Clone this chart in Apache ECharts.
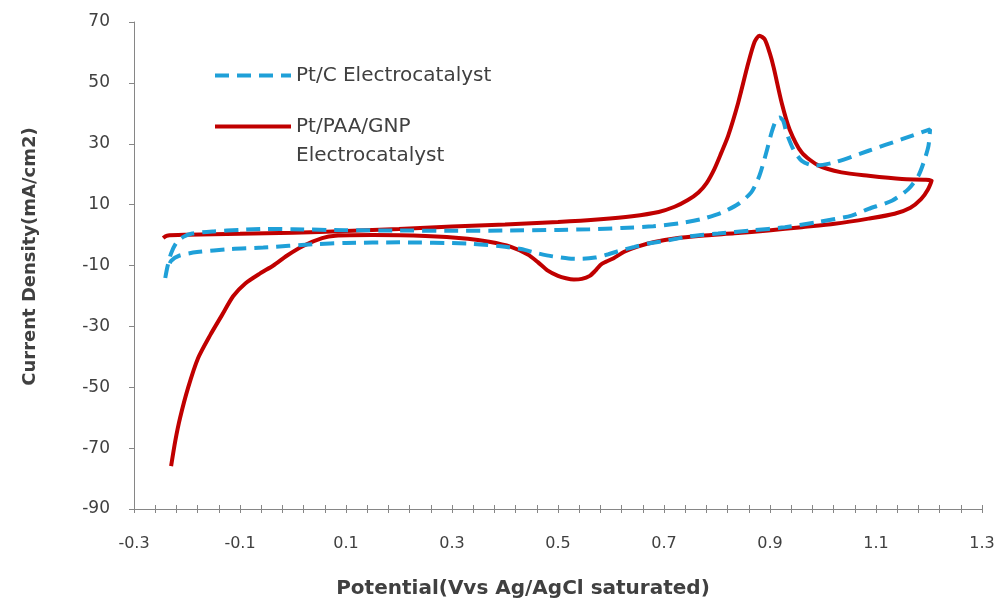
<!DOCTYPE html>
<html><head><meta charset="utf-8">
<script src="https://cdn.jsdelivr.net/npm/echarts@6/dist/echarts.min.js"></script>
<style>html,body{margin:0;padding:0;background:#fff}#c{width:1000px;height:604px}</style>
</head><body><div id="c"></div>
<script>
// Tick labels
const potentialTicks = [-0.3, -0.1, 0.1, 0.3, 0.5, 0.7, 0.9, 1.1, 1.3];
const currentTicks = [-90, -70, -50, -30, -10, 10, 30, 50, 70];

// Pt/PAA/GNP Electrocatalyst (forward scan then reverse scan)
const paaPotential = [
  -0.245, -0.238, -0.2, -0.1, 0.0, 0.1, 0.2, 0.3, 0.4, 0.5, 0.58, 0.64, 0.69, 0.72, 0.745, 0.765, 0.78, 0.795, 0.808, 0.821,
  0.84, 0.859, 0.871, 0.88, 0.89, 0.90, 0.907, 0.922, 0.937, 0.96, 0.992, 1.035, 1.086, 1.149, 1.205,
  1.198, 1.185, 1.165, 1.135, 1.086, 1.022, 0.96, 0.897, 0.833, 0.77, 0.72, 0.682, 0.65, 0.625, 0.605, 0.59, 0.58, 0.57,
  0.56, 0.545, 0.53, 0.515, 0.5, 0.48, 0.462, 0.443, 0.41, 0.37, 0.33, 0.25, 0.15, 0.08, 0.055, 0.02, -0.011, -0.037,
  -0.062, -0.09, -0.113, -0.134, -0.156, -0.179, -0.198, -0.213, -0.222, -0.230
];
const paaCurrent = [
  -1.0, -0.2, 0.1, 0.4, 0.8, 1.3, 2.0, 2.8, 3.5, 4.3, 5.2, 6.2, 7.6, 9.3, 11.5, 14.0, 17.0, 21.7, 27.0, 32.6,
  43.5, 56.5, 63.5, 65.5, 64.3, 59.5, 55.0, 43.5, 34.7, 27.1, 22.8, 20.6, 19.5, 18.4, 17.9,
  15.0, 11.8, 9.0, 7.0, 5.4, 3.7, 2.6, 1.5, 0.6, -0.2, -1.1, -2.3, -3.8, -5.5, -7.6, -8.8, -9.8, -11.8,
  -13.4, -14.4, -14.6, -14.2, -13.4, -11.6, -8.9, -6.4, -3.8, -2.2, -1.2, -0.3, 0.0, -0.2, -1.0, -3.5, -6.7, -10.0,
  -12.6, -15.9, -20.1, -26.3, -32.8, -40.4, -50.2, -60.0, -67.5, -75.9
];

// Pt/C Electrocatalyst (forward scan then reverse scan)
const ptcPotential = [
  -0.241, -0.237, -0.23, -0.22, -0.207, -0.19, -0.15, -0.1, -0.05, 0.0, 0.1, 0.2, 0.3, 0.4, 0.5, 0.56, 0.62, 0.68, 0.73,
  0.77, 0.808, 0.84, 0.865, 0.88, 0.893, 0.903, 0.912, 0.918, 0.925, 0.931, 0.944, 0.96, 0.984, 1.022, 1.086, 1.149, 1.202,
  1.199, 1.19, 1.18, 1.161, 1.13, 1.086, 1.054, 0.991, 0.928, 0.865, 0.802, 0.77, 0.746, 0.708, 0.67, 0.644, 0.619,
  0.595, 0.57, 0.544, 0.52, 0.49, 0.462, 0.43, 0.392, 0.33, 0.2, 0.1, 0.04, -0.056, -0.118, -0.181, -0.215, -0.23, -0.235
];
const ptcCurrent = [
  -14.1, -10.5, -6.0, -2.5, -0.6, 0.5, 1.2, 1.7, 2.0, 1.9, 1.6, 1.5, 1.4, 1.5, 1.7, 1.9, 2.3, 2.9, 3.9,
  5.2, 7.3, 10.2, 14.1, 19.5, 27.1, 33.7, 38.0, 38.6, 37.5, 33.7, 28.2, 24.4, 22.8, 23.9, 27.7, 31.5, 34.7,
  29.3, 23.9, 19.5, 15.1, 11.3, 8.6, 6.4, 4.3, 2.6, 1.5, 0.5, 0.0, -0.5, -1.7, -2.8, -3.9, -5.0,
  -6.3, -7.4, -7.8, -7.7, -7.0, -6.0, -4.6, -3.7, -2.8, -2.4, -2.6, -3.0, -4.1, -4.6, -5.6, -6.8, -8.5, -10.5
];

const zip = (xs, ys) => xs.map((x, i) => [x, ys[i]]);
// minor tick positions: five subdivisions between labelled ticks
const xMinor = [];
for (let i = 0; i < potentialTicks.length - 1; i++) {
  const a = potentialTicks[i], b = potentialTicks[i + 1];
  for (let k = 0; k < 5; k++) xMinor.push(+(a + (b - a) * k / 5).toFixed(3));
}
xMinor.push(potentialTicks[potentialTicks.length - 1]);

const AX = '#868686';
const TXT = '#404040';
const legendBase = {
  left: 208, orient: 'vertical', itemWidth: 76, itemHeight: 14,
  itemStyle: {opacity: 0, borderWidth: 0},
  lineStyle: {width: 4},
  textStyle: {fontFamily: 'DejaVu Sans', fontSize: 20, color: TXT, lineHeight: 29}
};
const chart = echarts.init(document.getElementById('c'), null, {renderer: 'canvas'});
chart.setOption({
  animation: false,
  backgroundColor: '#fff',
  grid: {left: 134, right: 18, top: 22, bottom: 92, containLabel: false},
  xAxis: [{
    type: 'value', min: -0.3, max: 1.3, position: 'bottom',
    axisLine: {show: true, onZero: false, lineStyle: {color: AX, width: 1}},
    axisTick: {show: true, customValues: xMinor, length: 4, lineStyle: {color: AX}},
    axisLabel: {customValues: potentialTicks, formatter: v => v.toFixed(1), color: TXT,
      fontFamily: 'DejaVu Sans', fontSize: 16, margin: 27},
    splitLine: {show: false},
    name: 'Potential(Vvs Ag/AgCl saturated)', nameLocation: 'middle', nameGap: 70,
    nameTextStyle: {fontWeight: 'bold', fontSize: 20, fontFamily: 'DejaVu Sans', color: TXT, padding: [0, 70, 0, 0]}
  }, {
    type: 'value', min: -0.3, max: 1.3, position: 'bottom',
    axisLine: {show: false, onZero: false},
    axisTick: {show: true, inside: true, customValues: xMinor, length: 4, lineStyle: {color: AX}},
    axisLabel: {show: false}, splitLine: {show: false}
  }],
  yAxis: {
    type: 'value', min: -90, max: 70,
    axisLine: {show: true, onZero: false, lineStyle: {color: AX, width: 1}},
    axisTick: {show: true, customValues: currentTicks, length: 5, lineStyle: {color: AX}},
    axisLabel: {customValues: currentTicks, color: TXT, fontFamily: 'DejaVu Sans', fontSize: 17, margin: 24},
    splitLine: {show: false},
    name: 'Current Density(mA/cm2)', nameLocation: 'middle', nameGap: 95,
    nameTextStyle: {fontWeight: 'bold', fontSize: 18, fontFamily: 'DejaVu Sans', color: TXT, padding: [0, 0, 0, 18]}
  },
  legend: [
    Object.assign({}, legendBase, {data: ['Pt/C Electrocatalyst'], top: 56}),
    Object.assign({}, legendBase, {
      data: ['Pt/PAA/GNP Electrocatalyst'], top: 78,
      formatter: () => ' \nPt/PAA/GNP\nElectrocatalyst'
    })
  ],
  series: [{
    name: 'Pt/PAA/GNP Electrocatalyst', type: 'line', xAxisIndex: 0,
    data: zip(paaPotential, paaCurrent), symbol: 'none', smooth: 0.25,
    lineStyle: {color: '#c00000', width: 4}, itemStyle: {color: '#c00000'}
  }, {
    name: 'Pt/C Electrocatalyst', type: 'line', xAxisIndex: 0,
    data: zip(ptcPotential, ptcCurrent), symbol: 'none', smooth: 0.25,
    lineStyle: {color: '#1fa0d8', width: 4, type: [14, 8], cap: 'butt'}, itemStyle: {color: '#1fa0d8'}
  }]
});
</script></body></html>
